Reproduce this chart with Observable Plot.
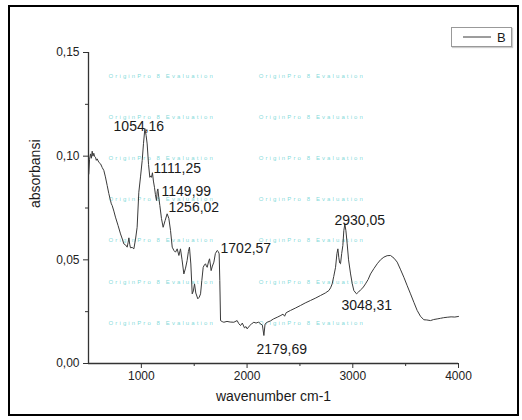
<!DOCTYPE html>
<html>
<head>
<meta charset="utf-8">
<script src="https://cdn.jsdelivr.net/npm/d3@7"></script>
<script src="https://cdn.jsdelivr.net/npm/@observablehq/plot@0.6"></script>
<style>
  html, body { margin: 0; padding: 0; background: #fff; }
  #wrap { position: relative; width: 522px; height: 420px; font-family: "Liberation Sans", Arial, sans-serif; }
  #border { position: absolute; left: 8px; top: 5px; width: 511px; height: 411px; border: 2px solid #000; box-sizing: border-box; pointer-events: none; }
  #legend { position: absolute; left: 451px; top: 27px; width: 61px; height: 20px; border: 1px solid #999; box-sizing: border-box; background: #fff; box-shadow: 1px 1px 1px #ccc; }
  #legend svg { position: absolute; left: 0; top: 0; }
</style>
</head>
<body>
<div id="wrap">
  <div id="chart"></div>
  <div id="legend"></div>
  <div id="border"></div>
</div>
<script>
// Spectrum values (wavenumber cm-1, absorbance)
const wavenumber = [503,510,519,527,535,542,550,558,566,574,582,598,614,630,645,660,677,692,708,716,724,740,755,780,803,820,834,850,866,875,882,890,897,913,929,945,960,976,992,1008,1020,1033,1045,1055,1068,1080,1090,1096,1105,1114,1124,1133,1143,1150,1156,1165,1175,1190,1206,1225,1244,1260,1276,1292,1308,1323,1339,1355,1370,1385,1402,1418,1433,1445,1455,1468,1481,1492,1503,1515,1534,1548,1560,1572,1585,1596,1607,1615,1623,1635,1645,1652,1660,1672,1686,1700,1717,1728,1736,1742,1749,1765,1780,1810,1840,1875,1906,1922,1938,1955,1975,1990,2001,2020,2040,2064,2085,2110,2127,2145,2159,2170,2190,2220,2250,2285,2320,2340,2355,2370,2411,2460,2506,2550,2600,2650,2695,2740,2774,2790,2805,2820,2837,2850,2859,2868,2876,2884,2895,2906,2915,2925,2935,2947,2960,2979,2995,3010,3035,3055,3073,3095,3120,3145,3168,3200,3231,3262,3294,3325,3357,3390,3420,3450,3483,3515,3546,3578,3609,3640,3672,3700,3735,3765,3798,3830,3860,3893,3930,3965,4000];
const absorbance = [0.0914,0.0985,0.1011,0.0990,0.1024,0.1000,0.1014,0.0998,0.0995,0.0980,0.0987,0.0970,0.0963,0.0945,0.0931,0.0900,0.0858,0.0820,0.0786,0.0770,0.0762,0.0735,0.0706,0.0665,0.0625,0.0600,0.0577,0.0572,0.0561,0.0585,0.0606,0.0575,0.0558,0.0560,0.0553,0.0600,0.0657,0.0826,0.0900,0.0979,0.1060,0.1133,0.1100,0.1059,0.0960,0.0898,0.0905,0.0898,0.0920,0.0880,0.0850,0.0815,0.0786,0.0830,0.0842,0.0800,0.0762,0.0700,0.0657,0.0690,0.0722,0.0700,0.0641,0.0561,0.0545,0.0537,0.0553,0.0521,0.0553,0.0500,0.0432,0.0460,0.0497,0.0540,0.0561,0.0480,0.0336,0.0350,0.0384,0.0340,0.0312,0.0320,0.0336,0.0400,0.0464,0.0475,0.0481,0.0470,0.0464,0.0490,0.0505,0.0480,0.0448,0.0470,0.0489,0.0530,0.0545,0.0540,0.0529,0.0400,0.0207,0.0202,0.0199,0.0203,0.0200,0.0199,0.0207,0.0192,0.0183,0.0195,0.0172,0.0178,0.0167,0.0180,0.0190,0.0199,0.0195,0.0200,0.0191,0.0185,0.0135,0.0190,0.0199,0.0205,0.0215,0.0223,0.0232,0.0238,0.0228,0.0245,0.0256,0.0268,0.0280,0.0292,0.0304,0.0316,0.0328,0.0340,0.0352,0.0365,0.0384,0.0420,0.0464,0.0530,0.0553,0.0510,0.0485,0.0481,0.0530,0.0569,0.0640,0.0673,0.0640,0.0577,0.0500,0.0432,0.0385,0.0352,0.0336,0.0345,0.0355,0.0365,0.0384,0.0405,0.0432,0.0458,0.0481,0.0500,0.0513,0.0520,0.0521,0.0508,0.0489,0.0455,0.0416,0.0375,0.0336,0.0295,0.0256,0.0228,0.0211,0.0210,0.0207,0.0212,0.0215,0.0218,0.0221,0.0223,0.0225,0.0224,0.0227];

// Peak annotations: label text and anchor position (data units)
const peakLabels = ["1054,16","1111,25","1149,99","1256,02","1702,57","2930,05","3048,31","2179,69"];
const peakLabelX = [737,1115,1191,1257,1749,2827,2893,2089];
const peakLabelY = [0.1143,0.0940,0.0829,0.0752,0.0554,0.0689,0.0280,0.0068];

// Axis ticks
const xMajorTicks = [1000,2000,3000,4000];
const xMinorTicks = [1500,2500,3500];
const yMajorTicks = [0,0.05,0.10,0.15];
const yMinorTicks = [0.025,0.075,0.125];

// Evaluation watermark grid (data units)
const watermarkText = "OriginPro 8 Evaluation";
const watermarkX = [690,2110];
const watermarkY = [0.1384,0.1187,0.0989,0.0791,0.0594,0.0391,0.0193];

const legendLabel = "B";

const spectrum = wavenumber.map((x, i) => ({x, y: absorbance[i]}));
const peaks = peakLabels.map((t, i) => ({t, x: peakLabelX[i], y: peakLabelY[i]}));
const watermarks = watermarkY.flatMap(y => watermarkX.map(x => ({x, y})));
const fmtY = d => d3.format(".2f")(d).replace(".", ",");

const axisColor = "#333";
const chart = Plot.plot({
  width: 522,
  height: 420,
  marginLeft: 88,
  marginRight: 64,
  marginTop: 52,
  marginBottom: 57,
  style: {fontFamily: "'Liberation Sans', Arial, sans-serif", fontSize: "12px", color: "#222", background: "transparent"},
  x: {domain: [500, 4000]},
  y: {domain: [0, 0.15]},
  marks: [
    Plot.text(watermarks, {x: "x", y: "y", text: () => watermarkText, textAnchor: "start", lineAnchor: "middle", fontSize: 6, fill: "#5fcfd0", fillOpacity: 0.8}),
    Plot.ruleY([0], {stroke: axisColor, strokeWidth: 1.3}),
    Plot.ruleX([500], {stroke: axisColor, strokeWidth: 1.3}),
    Plot.axisX({ticks: xMajorTicks, tickSize: 5, tickPadding: 3, tickFormat: d => String(d), label: null, stroke: axisColor, fontSize: 12}),
    Plot.axisX({ticks: xMinorTicks, tickSize: 3, tickFormat: () => "", label: null, stroke: axisColor}),
    Plot.axisY({ticks: yMajorTicks, tickSize: 5, tickPadding: 4, tickFormat: fmtY, label: null, stroke: axisColor, fontSize: 12}),
    Plot.axisY({ticks: yMinorTicks, tickSize: 3, tickFormat: () => "", label: null, stroke: axisColor}),
    Plot.line(spectrum, {x: "x", y: "y", stroke: "#3a3a3a", strokeWidth: 1}),
    Plot.text(peaks, {x: "x", y: "y", text: "t", textAnchor: "start", lineAnchor: "middle", fontSize: 14, fill: "#1a1a1a"}),
    Plot.text(["absorbansi"], {text: d => d, frameAnchor: "left", rotate: -90, dx: -53, fontSize: 14, fill: "#1a1a1a"}),
    Plot.text(["wavenumber cm-1"], {text: d => d, frameAnchor: "bottom", dy: 37, fontSize: 14, fill: "#1a1a1a"})
  ]
});
// widen the watermark lettering as in the original evaluation stamp
chart.querySelectorAll("text").forEach(t => {
  if (t.textContent === watermarkText) t.setAttribute("letter-spacing", "2.1");
});
document.getElementById("chart").appendChild(chart);

// Legend
const leg = d3.select("#legend").append("svg").attr("width", 59).attr("height", 18);
leg.append("line").attr("x1", 11).attr("x2", 39).attr("y1", 9).attr("y2", 9).attr("stroke", "#3a3a3a").attr("stroke-width", 1);
leg.append("text").attr("x", 45).attr("y", 14).attr("font-size", 13).attr("fill", "#1a1a1a")
  .attr("font-family", "'Liberation Sans', Arial, sans-serif").text(legendLabel);
</script>
</body>
</html>
